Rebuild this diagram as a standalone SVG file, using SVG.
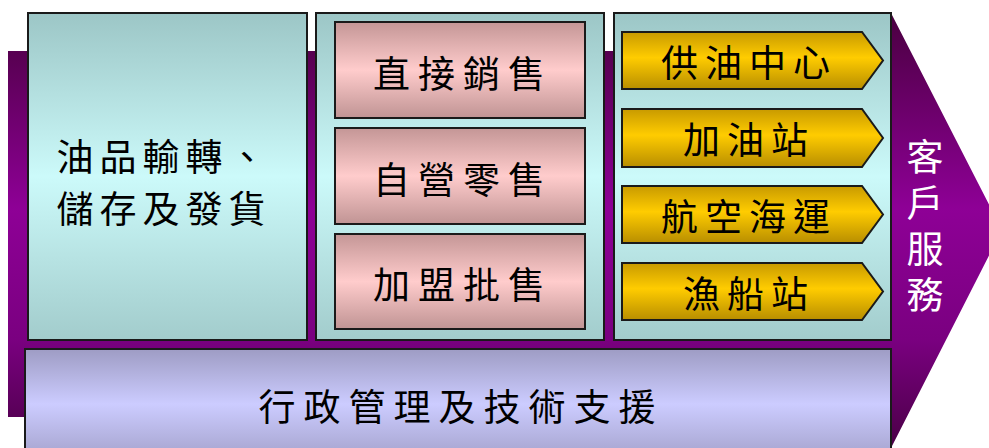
<svg xmlns="http://www.w3.org/2000/svg" width="989" height="448" viewBox="0 0 989 448">
<defs>
<linearGradient id="gPurple" x1="0" y1="0" x2="0" y2="1">
<stop offset="0" stop-color="#4a0040"/>
<stop offset="0.45" stop-color="#8e0096"/>
<stop offset="0.75" stop-color="#7a0080"/>
<stop offset="1" stop-color="#4a0046"/>
</linearGradient>
<linearGradient id="gCyan" x1="0" y1="0" x2="0" y2="1">
<stop offset="0" stop-color="#9cc6c6"/>
<stop offset="0.5" stop-color="#ccfafa"/>
<stop offset="1" stop-color="#a2cccc"/>
</linearGradient>
<linearGradient id="gPink" x1="0" y1="0" x2="0" y2="1">
<stop offset="0" stop-color="#c49696"/>
<stop offset="0.5" stop-color="#ffcccc"/>
<stop offset="1" stop-color="#c09494"/>
</linearGradient>
<linearGradient id="gGold" x1="0" y1="0" x2="0" y2="1">
<stop offset="0" stop-color="#c89a00"/>
<stop offset="0.45" stop-color="#ffcc00"/>
<stop offset="1" stop-color="#b88e00"/>
</linearGradient>
<linearGradient id="gLav" x1="0" y1="0" x2="0" y2="1">
<stop offset="0" stop-color="#9e9cc4"/>
<stop offset="0.5" stop-color="#ccccff"/>
<stop offset="1" stop-color="#a4a2cc"/>
</linearGradient>
</defs>
<style>
.box{stroke:#1a1a1a;stroke-width:2}
.t{font-family:"Noto Sans CJK TC","Noto Sans CJK SC",sans-serif;font-size:37px;fill:#000;text-anchor:middle;dominant-baseline:central}
.w{fill:#ffffff}
</style>
<g id="arrow">
<path d="M8,51 H891 V13 L1002,230 L891,448 V417 H8 Z" fill="url(#gPurple)"/>
</g>
<g id="left">
<rect class="box" x="28" y="13" width="279" height="327" fill="url(#gCyan)"/>
<text class="t" x="164" y="155" letter-spacing="6">油品輸轉、</text>
<text class="t" x="164" y="207" letter-spacing="6">儲存及發貨</text>
</g>
<g id="middle">
<rect class="box" x="316" y="13" width="288" height="327" fill="url(#gCyan)"/>
</g>
<g id="sale1"><rect class="box" x="335" y="22" width="250" height="96" fill="url(#gPink)"/><text class="t" x="463" y="72" letter-spacing="8">直接銷售</text></g>
<g id="sale2"><rect class="box" x="335" y="128" width="250" height="96" fill="url(#gPink)"/><text class="t" x="463" y="178" letter-spacing="8">自營零售</text></g>
<g id="sale3"><rect class="box" x="335" y="234" width="250" height="95" fill="url(#gPink)"/><text class="t" x="463" y="283" letter-spacing="8">加盟批售</text></g>
<g id="right">
<rect class="box" x="614" y="13" width="277" height="327" fill="url(#gCyan)"/>
</g>
<g id="ch1"><path class="box" d="M622,32 H862 L883,60.5 L862,89 H622 Z" fill="url(#gGold)"/><text class="t" x="749" y="61" letter-spacing="7">供油中心</text></g>
<g id="ch2"><path class="box" d="M622,109 H862 L883,138 L862,167 H622 Z" fill="url(#gGold)"/><text class="t" x="749" y="138" letter-spacing="7">加油站</text></g>
<g id="ch3"><path class="box" d="M622,186 H862 L883,214.5 L862,243 H622 Z" fill="url(#gGold)"/><text class="t" x="749" y="215" letter-spacing="7">航空海運</text></g>
<g id="ch4"><path class="box" d="M622,263 H862 L883,291.5 L862,320 H622 Z" fill="url(#gGold)"/><text class="t" x="749" y="292" letter-spacing="7">漁船站</text></g>
<g id="customer">
<text class="t w" x="925" y="230" writing-mode="vertical-rl" letter-spacing="9">客戶服務</text>
</g>
<g id="admin">
<rect class="box" x="25" y="349" width="866" height="110" fill="url(#gLav)"/>
<text class="t" x="461" y="405" letter-spacing="8">行政管理及技術支援</text>
</g>
<g id="connectors"></g>
</svg>
